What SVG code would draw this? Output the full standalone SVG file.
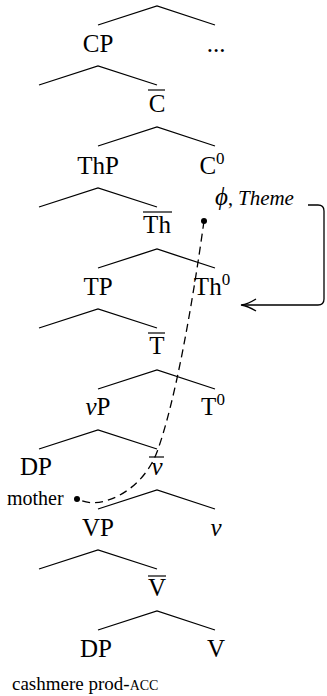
<svg xmlns="http://www.w3.org/2000/svg" width="327" height="696" viewBox="0 0 327 696" font-family="'Liberation Serif', 'Times New Roman', Times, serif">
<style>
text{font-family:'Liberation Serif','Times New Roman',Times,serif}
.t{font-size:25px;fill:#000;text-anchor:middle}
.s{font-size:20px;fill:#000}
.i{font-style:italic}
.sup{font-size:17px}
.br{fill:none;stroke:#000;stroke-width:1.3}
.bar{stroke:#000;stroke-width:1.2}
.dash{fill:none;stroke:#000;stroke-width:1.3;stroke-dasharray:8 5}
</style>
<rect width="327" height="696" fill="#fff"/>
<g id="connectors">
<polyline class="br" points="98,25 157,6 215,25"/>
<polyline class="br" points="39,85 98,66 157,85"/>
<polyline class="br" points="98,146 157,127 215,146"/>
<polyline class="br" points="39,207 98,188 157,207"/>
<polyline class="br" points="98,268 157,249 215,268"/>
<polyline class="br" points="39,328 98,309 157,328"/>
<polyline class="br" points="98,389 157,370 215,389"/>
<polyline class="br" points="39,449 98,430 157,449"/>
<polyline class="br" points="98,509 157,490 215,509"/>
<polyline class="br" points="39,569 98,550 157,569"/>
<polyline class="br" points="98,630 157,611 215,630"/>
<path class="dash" d="M204,221 C193,300 176,400 157,452 C142,492 100,510 80,500"/>
<circle cx="204" cy="221" r="3"/>
<circle cx="77" cy="499" r="3"/>
<path class="br" d="M308,205 L318,205 Q324,205 324,211 L324,299 Q324,305 318,305 L242,305"/>
<path class="br" d="M256,299 Q248,304 241,305 Q248,306 256,311"/>
</g>
<g id="n-cp"><text class="t" x="98" y="52">CP</text></g>
<g id="n-dots"><text class="t" x="216" y="52">...</text></g>
<g id="n-cbar"><text class="t" x="157" y="112">C</text><line class="bar" x1="148" y1="90" x2="165" y2="90"/></g>
<g id="n-thp"><text class="t" x="98" y="174">ThP</text></g>
<g id="n-c0"><text class="t" x="212" y="174">C<tspan class="sup" dy="-10">0</tspan></text></g>
<g id="n-thbar"><text class="t" x="157" y="233">Th</text><line class="bar" x1="143" y1="212" x2="172" y2="212"/></g>
<g id="n-tp"><text class="t" x="98" y="295">TP</text></g>
<g id="n-th0"><text class="t" x="212" y="295">Th<tspan class="sup" dy="-10">0</tspan></text></g>
<g id="n-tbar"><text class="t" x="157" y="354">T</text><line class="bar" x1="148" y1="333" x2="165" y2="333"/></g>
<g id="n-vp"><text class="t" x="98" y="415"><tspan class="i">v</tspan>P</text></g>
<g id="n-t0"><text class="t" x="213" y="415">T<tspan class="sup" dy="-10">0</tspan></text></g>
<g id="n-dp1"><text class="t" x="36" y="475">DP</text></g>
<g id="n-vbar"><text class="t i" x="157" y="475">v</text><line class="bar" x1="149" y1="457" x2="164" y2="457"/></g>
<g id="n-VP"><text class="t" x="98" y="536">VP</text></g>
<g id="n-v"><text class="t i" x="216" y="536">v</text></g>
<g id="n-Vbar"><text class="t" x="157" y="596">V</text><line class="bar" x1="148" y1="576" x2="166" y2="576"/></g>
<g id="n-dp2"><text class="t" x="96" y="657">DP</text></g>
<g id="n-V"><text class="t" x="216" y="657">V</text></g>
<g id="n-phi"><text class="s" x="215" y="205"><tspan class="i" style="font-size:25px">ϕ</tspan>, <tspan class="i" style="font-size:21px">Theme</tspan></text></g>
<g id="n-mother"><text class="s" x="7" y="505">mother</text></g>
<g id="n-gloss"><text class="s" x="12" y="690" style="font-size:19px">cashmere prod-<tspan style="font-size:14px">ACC</tspan></text></g>
</svg>
